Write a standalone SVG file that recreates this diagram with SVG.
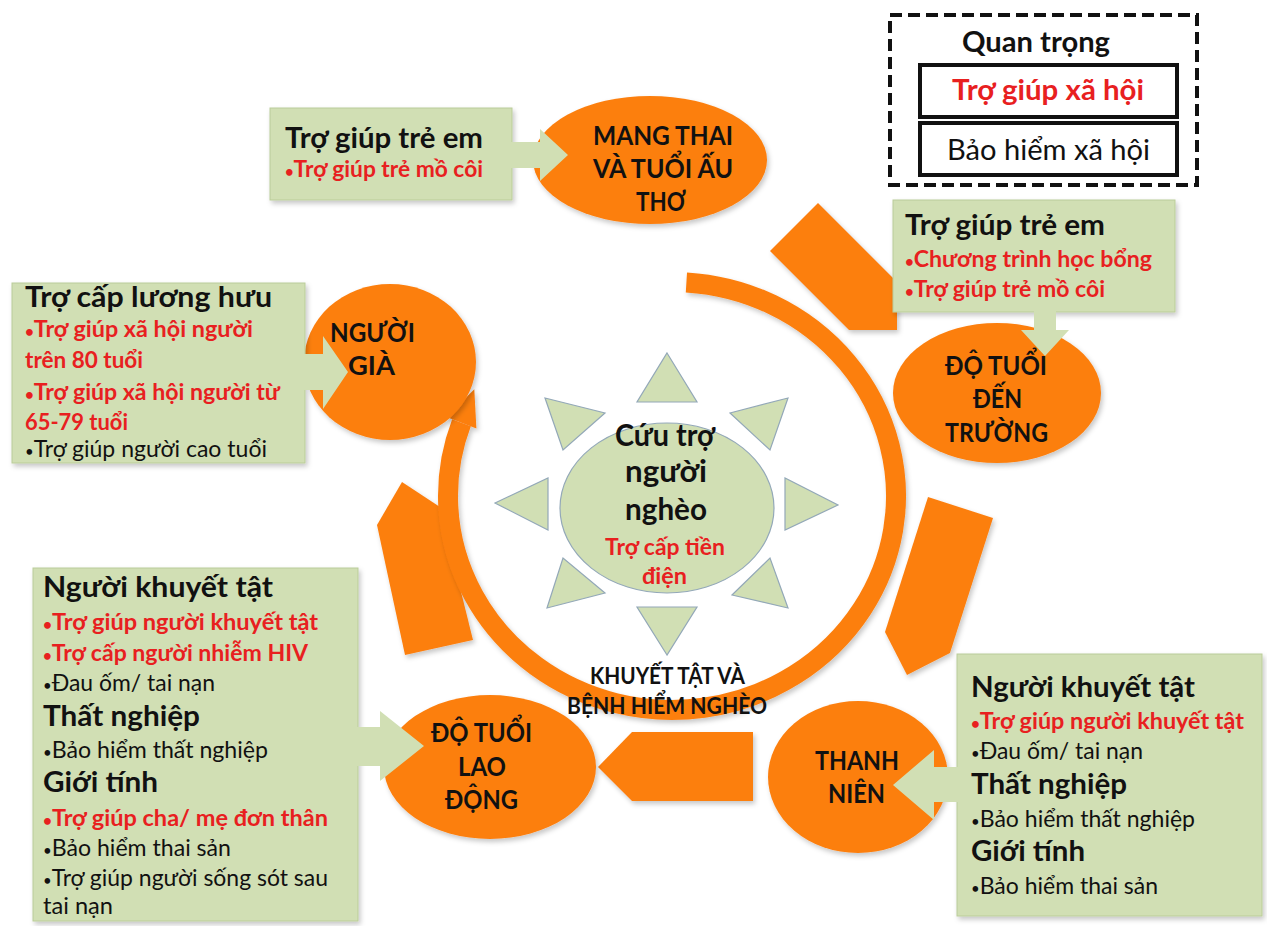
<svg xmlns="http://www.w3.org/2000/svg" width="1267" height="926" viewBox="0 0 1267 926">
<defs>
<filter id="sh" x="-15%" y="-15%" width="135%" height="135%">
<feDropShadow dx="2" dy="3" stdDeviation="2.5" flood-color="#000" flood-opacity="0.22"/>
</filter>
<style>
text{font-family:Lato,"Liberation Sans","Noto Sans",sans-serif;fill:#111}
.b{font-weight:700}
.r{fill:#E8201F;font-weight:700}
.h{font-size:29px;font-weight:700}
.i{font-size:23px}
.bu{font-size:15px}
.el{font-size:27px;font-weight:700}
.box{fill:#D1DFB4;stroke:#BACC99;stroke-width:1}
.grn{fill:#D1DFB4}
.org{fill:#FC7F10}
.tri{fill:#D1DFB4;stroke:#93A8B8;stroke-width:1.2}
</style>
</defs>
<rect width="1267" height="926" fill="#fff"/>

<g id="connectors">
<g filter="url(#sh)">
<polygon class="org" points="818,203 897,282 897,330 849,330 770,251"/>
<polygon class="org" points="928,497 993,518 950,653 907,675 885,632"/>
<polygon class="org" points="753,732 632,732 598,767 632,801 753,801"/>
<polygon class="org" points="402,482 440,507 473,640 405,655 377,525"/>
</g>
<g filter="url(#sh)">
<path d="M686.4,282.4 A224,214 0 1 1 461.5,422.8" fill="none" stroke="#FC7F10" stroke-width="20"/>
<polygon class="org" points="474.3,389.2 476.4,428.5 446.6,417.1"/>
</g>
</g>

<g id="node-mang-thai">
<ellipse class="org" cx="650" cy="160" rx="117" ry="64" filter="url(#sh)"/>
<text class="el" x="593" y="145" textLength="140" lengthAdjust="spacingAndGlyphs">MANG THAI</text>
<text class="el" x="593" y="178" textLength="140" lengthAdjust="spacingAndGlyphs">VÀ TUỔI ẤU</text>
<text class="el" x="636" y="211" textLength="50" lengthAdjust="spacingAndGlyphs">THƠ</text>
</g>

<g id="node-do-tuoi-den-truong">
<ellipse class="org" cx="997" cy="393" rx="104" ry="70" filter="url(#sh)"/>
<text class="el" x="945" y="375" textLength="102" lengthAdjust="spacingAndGlyphs">ĐỘ TUỔI</text>
<text class="el" x="973" y="408" textLength="49" lengthAdjust="spacingAndGlyphs">ĐẾN</text>
<text class="el" x="945" y="442" textLength="103" lengthAdjust="spacingAndGlyphs">TRƯỜNG</text>
</g>

<g id="node-nguoi-gia">
<ellipse class="org" cx="390" cy="362" rx="86" ry="78" filter="url(#sh)"/>
<text class="el" x="330" y="342" textLength="85" lengthAdjust="spacingAndGlyphs">NGƯỜI</text>
<text class="el" x="348" y="375" textLength="47" lengthAdjust="spacingAndGlyphs">GIÀ</text>
</g>

<g id="node-lao-dong">
<ellipse class="org" cx="490" cy="767" rx="106" ry="72" filter="url(#sh)"/>
<text class="el" x="431" y="742" textLength="101" lengthAdjust="spacingAndGlyphs">ĐỘ TUỔI</text>
<text class="el" x="458" y="776" textLength="48" lengthAdjust="spacingAndGlyphs">LAO</text>
<text class="el" x="445" y="809" textLength="73" lengthAdjust="spacingAndGlyphs">ĐỘNG</text>
</g>

<g id="node-thanh-nien">
<ellipse class="org" cx="858" cy="777" rx="90" ry="76" filter="url(#sh)"/>
<text class="el" x="815" y="770" textLength="84" lengthAdjust="spacingAndGlyphs">THANH</text>
<text class="el" x="828" y="803" textLength="57" lengthAdjust="spacingAndGlyphs">NIÊN</text>
</g>

<g id="node-center">
<polygon class="tri" points="667,353 697,402 637,402"/>
<polygon class="tri" points="788,398 770,450 730,413"/>
<polygon class="tri" points="838,505 785,530 785,478"/>
<polygon class="tri" points="788,608 732,595 770,558"/>
<polygon class="tri" points="667,655 637,607 697,607"/>
<polygon class="tri" points="547,608 563,558 605,593"/>
<polygon class="tri" points="495,503 548,478 548,530"/>
<polygon class="tri" points="545,398 605,413 563,450"/>
<ellipse class="tri" cx="667" cy="508" rx="107" ry="85"/>
<text class="b" font-size="30" x="615" y="446" textLength="100" lengthAdjust="spacingAndGlyphs">Cứu trợ</text>
<text class="b" font-size="30" x="625" y="482" textLength="82" lengthAdjust="spacingAndGlyphs">người</text>
<text class="b" font-size="30" x="625" y="520" textLength="82" lengthAdjust="spacingAndGlyphs">nghèo</text>
<text class="r" font-size="23" x="605" y="555" textLength="120" lengthAdjust="spacingAndGlyphs">Trợ cấp tiền</text>
<text class="r" font-size="23" x="642" y="584" textLength="45" lengthAdjust="spacingAndGlyphs">điện</text>
</g>

<g id="label-khuyet-tat">
<text class="b" font-size="23" x="590" y="684" textLength="155" lengthAdjust="spacingAndGlyphs">KHUYẾT TẬT VÀ</text>
<text class="b" font-size="23" x="567" y="714" textLength="200" lengthAdjust="spacingAndGlyphs">BỆNH HIỂM NGHÈO</text>
</g>

<g id="box-tro-giup-tre-em-1">
<rect class="box" x="270" y="108" width="242" height="92" filter="url(#sh)"/>
<polygon class="grn" points="510,142 540,142 540,129 568,155 540,181 540,168 510,168"/>
<text class="h" x="285" y="148" textLength="198" lengthAdjust="spacingAndGlyphs">Trợ giúp trẻ em</text>
<text class="i r" x="285" y="177" textLength="198" lengthAdjust="spacingAndGlyphs"><tspan class="bu">•</tspan>Trợ giúp trẻ mồ côi</text>
</g>

<g id="box-tro-giup-tre-em-2">
<rect class="box" x="893" y="200" width="282" height="112" filter="url(#sh)"/>
<polygon class="grn" points="1034,310 1056,310 1056,330 1069,330 1045,356 1021,330 1034,330"/>
<text class="h" x="905" y="235" textLength="200" lengthAdjust="spacingAndGlyphs">Trợ giúp trẻ em</text>
<text class="i r" x="905" y="267" textLength="247" lengthAdjust="spacingAndGlyphs"><tspan class="bu">•</tspan>Chương trình học bổng</text>
<text class="i r" x="905" y="297" textLength="200" lengthAdjust="spacingAndGlyphs"><tspan class="bu">•</tspan>Trợ giúp trẻ mồ côi</text>
</g>

<g id="box-tro-cap-luong-huu">
<rect class="box" x="12" y="283" width="293" height="180" filter="url(#sh)"/>
<polygon class="grn" points="303,354 323,354 323,336 348,372 323,409 323,390 303,390"/>
<text class="h" x="25" y="307" textLength="247" lengthAdjust="spacingAndGlyphs">Trợ cấp lương hưu</text>
<text class="i r" x="25" y="337" textLength="228" lengthAdjust="spacingAndGlyphs"><tspan class="bu">•</tspan>Trợ giúp xã hội người</text>
<text class="i r" x="25" y="368" textLength="118" lengthAdjust="spacingAndGlyphs">trên 80 tuổi</text>
<text class="i r" x="25" y="400" textLength="255" lengthAdjust="spacingAndGlyphs"><tspan class="bu">•</tspan>Trợ giúp xã hội người từ</text>
<text class="i r" x="25" y="430" textLength="103" lengthAdjust="spacingAndGlyphs">65-79 tuổi</text>
<text class="i" x="25" y="457" textLength="242" lengthAdjust="spacingAndGlyphs"><tspan class="bu">•</tspan>Trợ giúp người cao tuổi</text>
</g>

<g id="box-lao-dong">
<rect class="box" x="33" y="568" width="325" height="353" filter="url(#sh)"/>
<polygon class="grn" points="356,727 380,727 380,711 424,746 380,781 380,766 356,766"/>
<text class="h" x="43" y="597" textLength="230" lengthAdjust="spacingAndGlyphs">Người khuyết tật</text>
<text class="i r" x="43" y="630" textLength="275" lengthAdjust="spacingAndGlyphs"><tspan class="bu">•</tspan>Trợ giúp người khuyết tật</text>
<text class="i r" x="43" y="661" textLength="265" lengthAdjust="spacingAndGlyphs"><tspan class="bu">•</tspan>Trợ cấp người nhiễm HIV</text>
<text class="i" x="43" y="691" textLength="172" lengthAdjust="spacingAndGlyphs"><tspan class="bu">•</tspan>Đau ốm/ tai nạn</text>
<text class="h" x="43" y="726" textLength="157" lengthAdjust="spacingAndGlyphs">Thất nghiệp</text>
<text class="i" x="43" y="758" textLength="225" lengthAdjust="spacingAndGlyphs"><tspan class="bu">•</tspan>Bảo hiểm thất nghiệp</text>
<text class="h" x="43" y="792" textLength="115" lengthAdjust="spacingAndGlyphs">Giới tính</text>
<text class="i r" x="43" y="826" textLength="285" lengthAdjust="spacingAndGlyphs"><tspan class="bu">•</tspan>Trợ giúp cha/ mẹ đơn thân</text>
<text class="i" x="43" y="856" textLength="188" lengthAdjust="spacingAndGlyphs"><tspan class="bu">•</tspan>Bảo hiểm thai sản</text>
<text class="i" x="43" y="886" textLength="285" lengthAdjust="spacingAndGlyphs"><tspan class="bu">•</tspan>Trợ giúp người sống sót sau</text>
<text class="i" x="43" y="914" textLength="70" lengthAdjust="spacingAndGlyphs">tai nạn</text>
</g>

<g id="box-thanh-nien">
<rect class="box" x="957" y="654" width="305" height="262" filter="url(#sh)"/>
<polygon class="grn" points="960,767 934,767 934,750 893,785 934,820 934,802 960,802"/>
<text class="h" x="971" y="697" textLength="224" lengthAdjust="spacingAndGlyphs">Người khuyết tật</text>
<text class="i r" x="971" y="729" textLength="273" lengthAdjust="spacingAndGlyphs"><tspan class="bu">•</tspan>Trợ giúp người khuyết tật</text>
<text class="i" x="971" y="759" textLength="172" lengthAdjust="spacingAndGlyphs"><tspan class="bu">•</tspan>Đau ốm/ tai nạn</text>
<text class="h" x="971" y="794" textLength="156" lengthAdjust="spacingAndGlyphs">Thất nghiệp</text>
<text class="i" x="971" y="827" textLength="224" lengthAdjust="spacingAndGlyphs"><tspan class="bu">•</tspan>Bảo hiểm thất nghiệp</text>
<text class="h" x="971" y="861" textLength="114" lengthAdjust="spacingAndGlyphs">Giới tính</text>
<text class="i" x="971" y="894" textLength="187" lengthAdjust="spacingAndGlyphs"><tspan class="bu">•</tspan>Bảo hiểm thai sản</text>
</g>

<g id="legend">
<rect x="890" y="15" width="307" height="170" fill="#fff" stroke="#111" stroke-width="4" stroke-dasharray="12 6"/>
<text class="b" font-size="28" x="962" y="52" textLength="148" lengthAdjust="spacingAndGlyphs">Quan trọng</text>
<rect x="920" y="65" width="257" height="52" fill="#fff" stroke="#111" stroke-width="4"/>
<text class="r" font-size="28" x="952" y="100" textLength="192" lengthAdjust="spacingAndGlyphs">Trợ giúp xã hội</text>
<rect x="920" y="123" width="257" height="52" fill="#fff" stroke="#111" stroke-width="4"/>
<text font-size="28" x="947" y="160" textLength="203" lengthAdjust="spacingAndGlyphs">Bảo hiểm xã hội</text>
</g>
</svg>
